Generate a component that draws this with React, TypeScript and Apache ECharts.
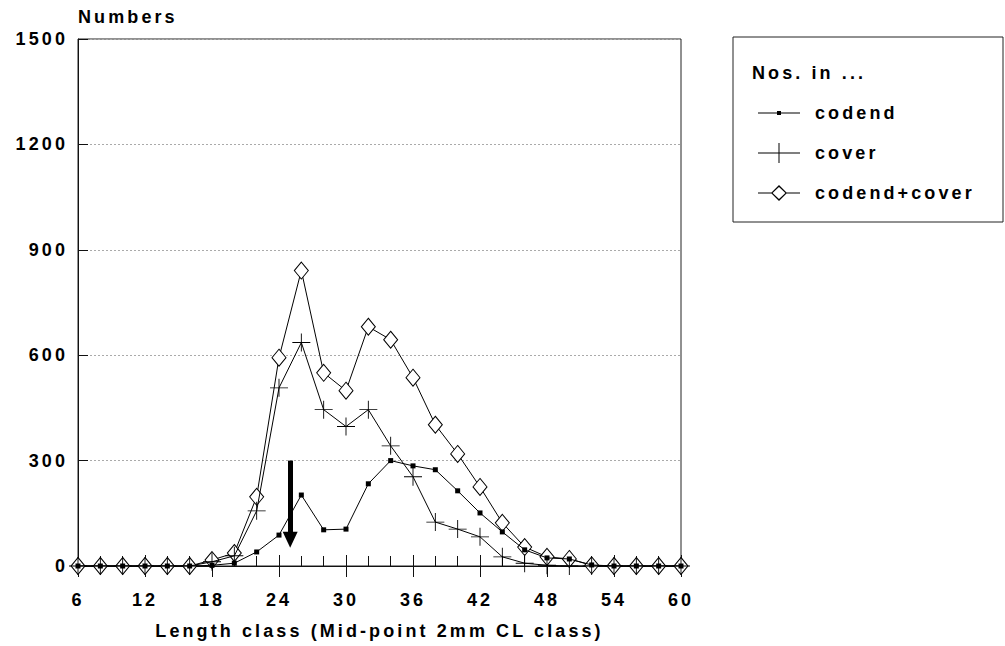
import React, { useEffect, useRef } from "react";
import * as echarts from "echarts";

const lengthClasses = [6, 8, 10, 12, 14, 16, 18, 20, 22, 24, 26, 28, 30, 32, 34, 36, 38, 40, 42, 44, 46, 48, 50, 52, 54, 56, 58, 60];
const codend = [0, 0, 0, 0, 0, 0, 2, 8, 40, 88, 202, 103, 105, 234, 300, 285, 274, 214, 151, 97, 46, 23, 20, 3, 0, 0, 0, 0];
const cover = [0, 0, 0, 0, 0, 0, 12, 29, 157, 507, 636, 445, 397, 445, 342, 254, 125, 105, 83, 26, 8, 2, 0, 0, 0, 0, 0, 0];
const codendCover = [0, 0, 0, 0, 0, 0, 17, 37, 197, 593, 841, 550, 499, 681, 644, 536, 402, 319, 225, 123, 54, 26, 20, 2, 0, 0, 0, 0];

const seriesNames = ["codend", "cover", "codend+cover"];
const yTicks = { min: 0, max: 1500, interval: 300 };
const xTicks = { min: 6, max: 60, interval: 6 };
const arrowX = 25;
const arrowFrom = 300;
const arrowTo = 75;

const FONT = "Liberation Sans, Arial, sans-serif";

const plusPath = "path://M9.5,0h1v20h-1zM0,9.5h20v1h-20z";
const legendIcons = [
  "path://M0,9.5h42v1h-42zM19,8h4v4h-4z",
  "path://M0,9.5h42v1h-42zM20.5,0h1v20h-1z",
  "path://M0,9.5h14v1h-14zM28,9.5h14v1h-14zM21,2L29,10L21,18L13,10ZM21,4L14.6,10L21,16L27.4,10Z",
];

function pairs(vals: number[]) {
  return lengthClasses.map((x, i) => [x, vals[i]]);
}

export default function App() {
  const ref = useRef<HTMLDivElement>(null);
  useEffect(() => {
    if (!ref.current) return;
    const chart = echarts.init(ref.current, undefined, { renderer: "svg" });
    const text = { fontFamily: FONT, fontSize: 18, fontWeight: "bold" as const, color: "#000" };
    chart.setOption({
      animation: false,
      backgroundColor: "#fff",
      grid: { left: 78, top: 39, right: 324, bottom: 80, show: true, borderColor: "#222", borderWidth: 1 },
      legend: {
        orient: "vertical",
        left: 753,
        top: 99,
        itemWidth: 42,
        itemHeight: 20,
        itemGap: 21,
        selectedMode: false,
        itemStyle: { color: "#000", borderWidth: 0 },
        textStyle: { ...text, padding: [0, 0, 0, 10] },
        data: seriesNames.map((n, i) => ({ name: n, icon: legendIcons[i] })),
      },
      graphic: [
        {
          type: "rect",
          shape: { x: 733, y: 37, width: 270, height: 185 },
          style: { fill: "none", stroke: "#222", lineWidth: 1 },
          silent: true,
        },
        {
          type: "text",
          x: 752,
          y: 73,
          style: { text: "Nos. in ...", font: `bold 18px ${FONT}`, fill: "#000", textVerticalAlign: "middle" },
          silent: true,
        },
      ],
      xAxis: [
        {
          type: "value",
          min: xTicks.min,
          max: xTicks.max,
          interval: xTicks.interval,
          name: "Length class (Mid-point 2mm CL class)",
          nameLocation: "middle",
          nameGap: 56,
          nameTextStyle: text,
          axisLine: { lineStyle: { color: "#111", width: 1 } },
          axisTick: { show: true, inside: true, length: 11, lineStyle: { color: "#111" } },
          minorTick: { show: true, splitNumber: 3, length: 10, lineStyle: { color: "#111" } },
          axisLabel: { ...text, margin: 25 },
          splitLine: { show: false },
        },
        {
          type: "value",
          position: "bottom",
          min: xTicks.min,
          max: xTicks.max,
          interval: xTicks.interval,
          axisLine: { show: false },
          axisTick: { show: true, inside: false, length: 11, lineStyle: { color: "#111" } },
          axisLabel: { show: false },
          splitLine: { show: false },
        },
      ],
      yAxis: {
        type: "value",
        min: yTicks.min,
        max: yTicks.max,
        interval: yTicks.interval,
        name: "Numbers",
        nameLocation: "end",
        nameGap: 22,
        nameTextStyle: { ...text, align: "left", verticalAlign: "middle" },
        axisLine: { show: true, lineStyle: { color: "#111", width: 1 } },
        axisTick: { show: true, inside: true, length: 10, lineStyle: { color: "#111" } },
        axisLabel: { ...text, margin: 10, formatter: (v: number) => String(v) },
        splitLine: { show: true, lineStyle: { color: "#aaa", type: [2, 2], width: 1 } },
      },
      series: [
        {
          name: seriesNames[0],
          type: "line",
          z: 4,
          data: pairs(codend),
          color: "#000",
          symbol: "rect",
          symbolSize: 5,
          itemStyle: { color: "#000" },
          lineStyle: { color: "#000", width: 1 },
          markLine: {
            silent: true,
            symbol: ["none", "triangle"],
            symbolSize: [15, 16],
            label: { show: false },
            lineStyle: { color: "#000", width: 5, type: "solid" },
            itemStyle: { color: "#000" },
            data: [[{ coord: [arrowX, arrowFrom] }, { coord: [arrowX, arrowTo] }]],
          },
        },
        {
          name: seriesNames[1],
          type: "line",
          z: 3,
          data: pairs(cover),
          color: "#000",
          symbol: plusPath,
          symbolSize: 18,
          itemStyle: { color: "#000" },
          lineStyle: { color: "#000", width: 1 },
        },
        {
          name: seriesNames[2],
          type: "line",
          z: 2,
          data: pairs(codendCover),
          color: "#000",
          symbol: "diamond",
          symbolSize: [14, 17],
          itemStyle: { color: "#fff", borderColor: "#000", borderWidth: 1 },
          lineStyle: { color: "#000", width: 1 },
        },
      ],
    });
    return () => chart.dispose();
  }, []);
  return (
    <>
      <style>{`body{margin:0} #chartbox text{letter-spacing:3.1px}`}</style>
      <div
        id="chartbox"
        ref={ref}
        style={{ position: "absolute", left: 0, top: 0, width: 1005, height: 646, background: "#fff" }}
      />
    </>
  );
}
